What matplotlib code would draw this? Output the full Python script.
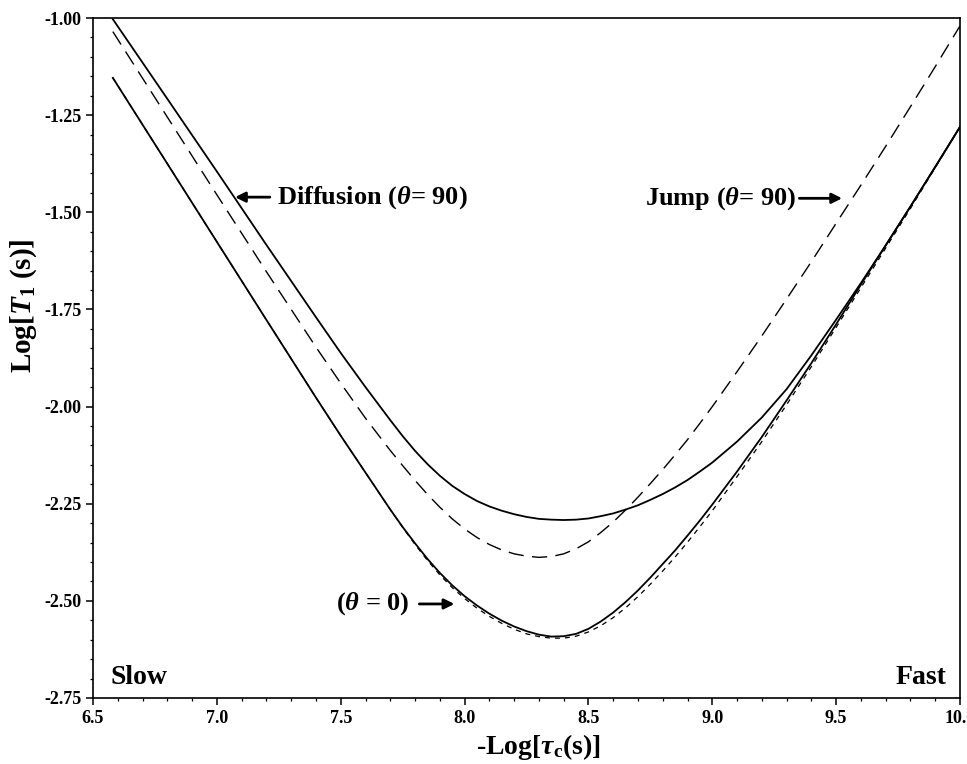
import numpy as np
import matplotlib
matplotlib.use('Agg')
import matplotlib.pyplot as plt
from matplotlib.ticker import MultipleLocator, FormatStrFormatter

plt.rcParams['font.family'] = 'Liberation Serif'
plt.rcParams['font.weight'] = 'bold'
plt.rcParams['mathtext.fontset'] = 'custom'
plt.rcParams['mathtext.rm'] = 'Liberation Serif:bold'
plt.rcParams['mathtext.it'] = 'Liberation Serif:italic:bold'
plt.rcParams['mathtext.bf'] = 'Liberation Serif:bold'

# -Log(tau_c) grid, values (denser around the minima)
x = [6.58, 6.8, 7.0, 7.2, 7.4, 7.5, 7.6,
     7.7, 7.75, 7.8, 7.85, 7.9, 7.95, 8.0, 8.05, 8.1, 8.15, 8.2, 8.25, 8.3, 8.35,
     8.4, 8.45, 8.5, 8.55, 8.6, 8.65, 8.7, 8.75, 8.8, 8.85, 8.9, 8.95, 9.0,
     9.1, 9.2, 9.3, 9.4, 9.5, 9.6, 9.7, 9.8, 9.9, 10.0]

# diffusion, theta = 90 (solid, upper)
diff90 = [-1.003, -1.208, -1.395, -1.584, -1.770, -1.862, -1.950,
          -2.035, -2.076, -2.114, -2.148, -2.178, -2.204, -2.225, -2.243, -2.257, -2.268,
          -2.277, -2.284, -2.289, -2.291, -2.292, -2.291, -2.288, -2.282, -2.275, -2.265,
          -2.254, -2.240, -2.225, -2.208, -2.189, -2.167, -2.144,
          -2.090, -2.028, -1.955, -1.868, -1.776, -1.682, -1.585, -1.485, -1.383, -1.280]

# jump, theta = 90 (long dashes)
jump90 = [-1.035, -1.255, -1.455, -1.653, -1.847, -1.940, -2.030,
          -2.113, -2.152, -2.190, -2.226, -2.259, -2.289, -2.315, -2.337, -2.355, -2.369,
          -2.379, -2.385, -2.388, -2.386, -2.379, -2.366, -2.348, -2.324, -2.297, -2.266,
          -2.233, -2.198, -2.162, -2.124, -2.085, -2.043, -2.000,
          -1.910, -1.818, -1.723, -1.627, -1.528, -1.430, -1.330, -1.228, -1.125, -1.020]

# theta = 0, diffusion (solid, lower)
diff0 = [-1.154, -1.375, -1.576, -1.777, -1.977, -2.075, -2.170,
         -2.265, -2.310, -2.352, -2.392, -2.428, -2.460, -2.488, -2.512, -2.533, -2.551,
         -2.566, -2.578, -2.587, -2.592, -2.591, -2.585, -2.572, -2.553, -2.530, -2.503,
         -2.473, -2.440, -2.405, -2.370, -2.332, -2.293, -2.252,
         -2.167, -2.078, -1.984, -1.888, -1.788, -1.686, -1.585, -1.485, -1.383, -1.280]

# theta = 0, jump (short dashes)
jump0 = [-1.154, -1.375, -1.576, -1.777, -1.977, -2.075, -2.170,
         -2.265, -2.311, -2.355, -2.396, -2.433, -2.466, -2.494, -2.519, -2.540, -2.558,
         -2.573, -2.585, -2.592, -2.596, -2.596, -2.591, -2.580, -2.564, -2.543, -2.518,
         -2.489, -2.457, -2.423, -2.387, -2.349, -2.309, -2.268,
         -2.180, -2.090, -1.995, -1.897, -1.796, -1.694, -1.592, -1.490, -1.385, -1.280]

fig = plt.figure(figsize=(9.67, 7.64), dpi=100)
ax = fig.add_axes([0.0962, 0.0864, 0.8966, 0.89])

ax.plot(x, diff90, color='black', lw=1.3)
ax.plot(x, diff0, color='black', lw=1.3)
ax.plot(x, jump90, color='black', lw=1.0, dashes=(11, 6))
ax.plot(x, jump0, color='black', lw=0.9, dashes=(4, 4))

ax.set_xlim(6.5, 10)
ax.set_ylim(-2.75, -1.0)
ax.xaxis.set_major_locator(MultipleLocator(0.5))
ax.xaxis.set_minor_locator(MultipleLocator(0.1))
ax.yaxis.set_major_locator(MultipleLocator(0.25))
ax.yaxis.set_minor_locator(MultipleLocator(0.05))
ax.xaxis.set_major_formatter(FormatStrFormatter('%.1f'))
ax.yaxis.set_major_formatter(FormatStrFormatter('%.2f'))
ax.tick_params(which='major', direction='out', length=5, width=1.1, labelsize=13)
ax.tick_params(which='minor', direction='out', length=2.5, width=0.9)
for lab in ax.get_xticklabels() + ax.get_yticklabels():
    lab.set_fontweight('bold')
for sp in ax.spines.values():
    sp.set_linewidth(1.2)

fig.text(0.5565, 0.022, r'-Log[$\tau_\mathrm{c}$(s)]', ha='center', va='center',
         fontsize=20, fontweight='bold')
fig.text(0.024, 0.60, r'Log[$T_1$ (s)]', ha='center', va='center', rotation=90,
         fontsize=21, fontweight='bold')

arrow = dict(arrowstyle='-|>,head_length=0.6,head_width=0.3', color='black', lw=2)
ax.annotate('', xy=(7.062, -1.461), xytext=(7.225, -1.461), arrowprops=arrow)
ax.text(7.242, -1.461, r'Diffusion ($\theta$= 90)', ha='left', va='center',
        fontsize=19, fontweight='bold')
ax.annotate('', xy=(9.535, -1.464), xytext=(9.34, -1.464), arrowprops=arrow)
ax.text(9.339, -1.464, r'Jump ($\theta$= 90)', ha='right', va='center',
        fontsize=19, fontweight='bold')
ax.annotate('', xy=(7.97, -2.508), xytext=(7.806, -2.508), arrowprops=arrow)
ax.text(7.778, -2.508, r'($\theta$ = 0)', ha='right', va='center',
        fontsize=19, fontweight='bold')

ax.text(6.569, -2.698, 'Slow', ha='left', va='center', fontsize=20, fontweight='bold')
ax.text(9.944, -2.698, 'Fast', ha='right', va='center', fontsize=20, fontweight='bold')

fig.savefig('out.png', dpi=100)
